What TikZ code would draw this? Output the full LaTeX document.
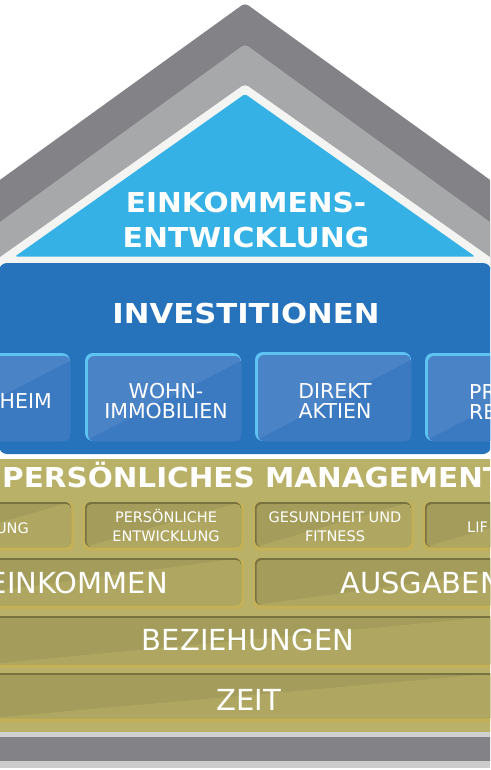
\documentclass[tikz,border=0pt]{standalone}
\usepackage{fontspec}
\setmainfont{DejaVu Sans}
\usepackage{graphicx}
\usetikzlibrary{calc}
\definecolor{roofdark}{HTML}{838287}
\definecolor{rooflight}{HTML}{A7A8AA}
\definecolor{roofwhite}{HTML}{F4F4F2}
\definecolor{skyblue}{HTML}{35B1E6}
\definecolor{invblue}{HTML}{2672BB}
\definecolor{boxblueA}{HTML}{4B83C7}
\definecolor{boxblueB}{HTML}{3B79C1}
\definecolor{boxhl}{HTML}{5EC2F2}
\definecolor{olivebg}{HTML}{B9B168}
\definecolor{oliveA}{HTML}{A49C5A}
\definecolor{oliveB}{HTML}{AFA761}
\definecolor{olivedark}{HTML}{787240}
\definecolor{olivegold}{HTML}{C3B159}
\definecolor{basegray}{HTML}{D0D0D0}
\newcommand\invbox[4]{%
  \fill[boxhl, rounded corners=8] (#1,#2) rectangle (#3,#4);
  \begin{scope}
    \clip[rounded corners=6] ($(#1,#2)+(3,3)$) rectangle (#3,#4);
    \fill[boxblueA] (#1,#2) rectangle (#3,#4);
    \fill[boxblueB] (#1,#4) -- ($(#3,#2)+(0,8)$) -- (#3,#4) -- cycle;
  \end{scope}}
\newcommand\olbox[4]{%
  \fill[olivegold, rounded corners=6] ($(#1,#2)+(-2,0)$) rectangle ($(#3,#4)+(3,4)$);
  \fill[olivedark, rounded corners=6] (#1,#2) rectangle (#3,#4);
  \begin{scope}
    \clip[rounded corners=5] ($(#1,#2)+(1.5,2)$) rectangle (#3,#4);
    \fill[oliveA] (#1,#2) rectangle (#3,#4);
    \fill[oliveB] (#1,#4) -- (#3,#2) -- (#3,#4) -- cycle;
  \end{scope}}
\newcommand\widetxt[2]{\scalebox{#1}[1]{#2}}
\tikzset{
  boldttl/.style={text=white, font=\bfseries\fontsize{27.4}{35}\selectfont, inner sep=0pt, align=center},
  midlbl/.style={text=white, font=\fontsize{20.5}{20}\selectfont, inner sep=0pt, align=center},
  smalllbl/.style={text=white, font=\fontsize{14.5}{19}\selectfont, inner sep=0pt, align=center},
  biglbl/.style={text=white, font=\fontsize{29}{30}\selectfont, inner sep=0pt}
}
\begin{document}
\begin{tikzpicture}[x=1pt,y=-1pt]
\useasboundingbox (0,0) rectangle (490,770);
\clip (0,0) rectangle (490,770);
\fill[white] (0,0) rectangle (490,770);
% roof
\fill[roofdark, rounded corners=4] (245,3) -- (-55,219.6) -- (-55,270) -- (545,270) -- (545,219.6) -- cycle;
\fill[rooflight, rounded corners=4] (245,44) -- (-55,262) -- (-55,270) -- (545,270) -- (545,262) -- cycle;
\fill[roofwhite, rounded corners=4] (245,84) -- (-55,296) -- (545,296) -- cycle;
\fill[skyblue, rounded corners=2] (245,94) -- (15,256.5) -- (475,256.5) -- cycle;
\node[boldttl] (roof) at (246,220.5) {\widetxt{1.08}{EINKOMMENS-}\\\widetxt{1.09}{ENTWICKLUNG}};
% investments
\fill[invblue, rounded corners=8] (-1,263) rectangle (491,454);
\node[boldttl, anchor=base] (inv) at (246,323) {\widetxt{1.12}{INVESTITIONEN}};
\invbox{-85}{353}{70}{441}
\invbox{85}{353}{241}{441}
\invbox{255}{352}{411}{441}
\invbox{425}{353}{581}{441}
\node[midlbl, anchor=base east] (heim) at (52,408) {HEIM};
\node[midlbl] (wohn) at (166,401) {WOHN-\\IMMOBILIEN};
\node[midlbl] (direkt) at (335,401) {DIREKT\\AKTIEN};
\node[midlbl, anchor=north west, align=left] (pr) at (469,384) {PR\\RE};
% personal management
\fill[olivebg] (-5,459) rectangle (495,732);
\node[boldttl, anchor=base west] (pm) at (2,487) {\widetxt{1.075}{PERSÖNLICHES MANAGEMENT}};
\olbox{-85}{502}{71}{547}
\olbox{85}{502}{241}{547}
\olbox{255}{502}{411}{547}
\olbox{425}{502}{581}{547}
\olbox{-110}{558}{241}{605}
\olbox{255}{558}{600}{605}
\olbox{-10}{616}{500}{664}
\olbox{-10}{673}{500}{718}
\node[smalllbl, anchor=base east] (ung) at (29,533) {UNG};
\node[smalllbl] (pers) at (166,525.5) {PERSÖNLICHE\\ENTWICKLUNG};
\node[smalllbl] (ges) at (335,527) {GESUNDHEIT UND\\FITNESS};
\node[smalllbl, anchor=base west] (lif) at (467,532) {LIF};
\node[biglbl, anchor=base east] (ein) at (168,593) {EINKOMMEN};
\node[biglbl, anchor=base west] (aus) at (340,593) {AUSGABEN};
\node[biglbl, anchor=base] (bez) at (248,650) {BEZIEHUNGEN};
\node[biglbl, anchor=base] (zeit) at (249,710) {ZEIT};
% base
\fill[basegray] (-5,732) rectangle (495,737);
\fill[roofdark] (-5,737) rectangle (495,761);
\fill[black!20] (-5,761) rectangle (495,768);
\end{tikzpicture}
\end{document}
